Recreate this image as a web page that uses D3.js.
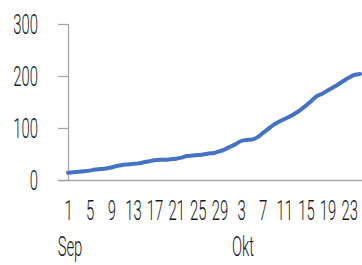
<!DOCTYPE html>
<html>
<head>
<meta charset="utf-8">
<script src="https://cdn.jsdelivr.net/npm/d3@7"></script>
<style>
  body { margin: 0; background: #fff; }
  svg text { font-family: Roboto, "Liberation Sans", Arial, sans-serif; font-weight: 300; fill: #1a1a1a; }
</style>
</head>
<body>
<svg width="362" height="265"></svg>
<script>
// day of month for each category (Sep 1 .. Okt 25)
var dayLabels = [1, 2, 3, 4, 5, 6, 7, 8, 9, 10, 11, 12, 13, 14, 15, 16, 17, 18, 19, 20,
                 21, 22, 23, 24, 25, 26, 27, 28, 29, 30,
                 1, 2, 3, 4, 5, 6, 7, 8, 9, 10, 11, 12, 13, 14, 15, 16, 17, 18, 19, 20,
                 21, 22, 23, 24, 25];
var values = [14, 15, 16, 17, 18, 20, 21, 22, 24, 27, 29, 30, 31, 32, 34, 36, 38, 39, 39, 40,
              41, 43, 46, 47, 48, 49, 51, 52, 55, 59,
              64, 69, 75, 77, 78, 82, 90, 98, 106, 112, 117, 122, 128, 135, 143, 152, 161, 166, 172, 178,
              184, 191, 197, 202, 204];
var tickIndex = [0, 4, 8, 12, 16, 20, 24, 28, 32, 36, 40, 44, 48, 52];
var yTicks = [0, 100, 200, 300];
var monthLabels = [["Sep", 0], ["Okt", 32]];

var svg = d3.select("svg"),
    squeeze = 0.55,   // narrow font look
    fontSize = 27;

var x = d3.scaleLinear()
  .domain([0, values.length - 1])
  .range([68, 360]);

var y = d3.scaleLinear()
  .domain([0, 300])
  .range([180, 24]);

// y axis
var gy = svg.append("g")
  .attr("transform", "translate(68,0)")
  .call(d3.axisLeft(y).tickValues(yTicks).tickSize(10).tickPadding(20));
gy.selectAll("path, line").attr("stroke", "#a6a6a6").attr("stroke-width", 1.3);
gy.select(".domain").attr("d", "M0.5,24V180");
gy.selectAll("text")
  .attr("font-size", fontSize)
  .attr("font-family", null)
  .attr("x", -30 / squeeze)
  .attr("dy", "0.36em")
  .attr("transform", "scale(" + squeeze + ",1)");

// x axis, no tick marks
var gx = svg.append("g")
  .attr("transform", "translate(0,180)")
  .call(d3.axisBottom(x).tickValues(tickIndex).tickSize(0)
    .tickFormat(function (i) { return dayLabels[i]; }));
gx.select(".domain").attr("stroke", "#a6a6a6").attr("stroke-width", 1.3)
  .attr("d", "M58,0.5H362");
gx.selectAll("text")
  .attr("font-size", fontSize)
  .attr("font-family", null)
  .attr("y", 40.5)
  .attr("dy", 0)
  .attr("transform", "scale(" + squeeze + ",1)");

// month names below first tick of each month
svg.selectAll(".month")
  .data(monthLabels)
  .enter().append("text")
    .attr("class", "month")
    .attr("font-size", fontSize)
    .attr("text-anchor", "middle")
    .attr("transform", function (d) { return "translate(" + (x(d[1]) + 2) + ",256) scale(" + squeeze + ",1)"; })
    .text(function (d) { return d[0]; });

// the series
var line = d3.line()
  .x(function (d, i) { return x(i); })
  .y(function (d) { return y(d); })
  .curve(d3.curveMonotoneX);

svg.append("path")
  .datum(values)
  .attr("fill", "none")
  .attr("stroke", "#4472c4")
  .attr("stroke-width", 4)
  .attr("stroke-linejoin", "round")
  .attr("stroke-linecap", "round")
  .attr("d", line);
</script>
</body>
</html>
